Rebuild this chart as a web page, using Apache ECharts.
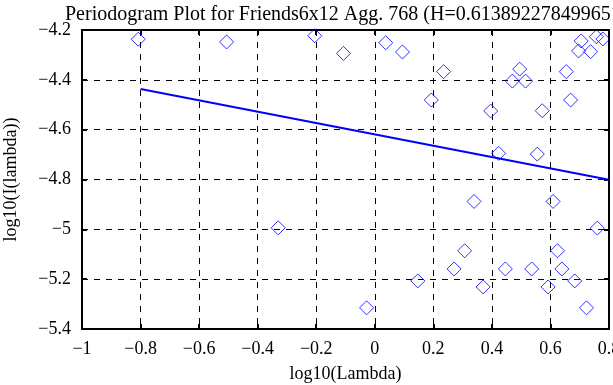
<!DOCTYPE html>
<html><head><meta charset="utf-8">
<script src="https://cdn.jsdelivr.net/npm/echarts@6/dist/echarts.min.js"></script>
<style>html,body{margin:0;padding:0;background:#fff;overflow:hidden}#c{width:613px;height:385px}</style>
</head><body><div id="c"></div>
<script>
const titleText = "Periodogram Plot for Friends6x12 Agg. 768 (H=0.613892278499651)";
const xName = "log10(Lambda)";
const yName = "log10(I(lambda))";
const xTicks = [-1, -0.8, -0.6, -0.4, -0.2, 0, 0.2, 0.4, 0.6, 0.8];
const yTicks = [-5.4, -5.2, -5, -4.8, -4.6, -4.4, -4.2];
const pointX = [-0.808, -0.506, -0.205, -0.107, 0.0375, 0.0945, 0.235, 0.193, 0.495, 0.470, 0.515, 0.396, 0.572, 0.654, 0.669, 0.423, 0.555,
  0.705, 0.757, 0.779, 0.696, 0.737,
  -0.330, 0.339, 0.609, 0.760, 0.307, 0.624, 0.271, 0.446, 0.536, 0.639, 0.147, 0.370, 0.592, 0.683, -0.028, 0.723];
const pointY = [-4.237, -4.248, -4.223, -4.294, -4.251, -4.288, -4.367, -4.481, -4.357, -4.405, -4.405, -4.525, -4.524, -4.367, -4.481, -4.695, -4.698,
  -4.244, -4.227, -4.236, -4.284, -4.287,
  -4.994, -4.888, -4.888, -4.995, -5.086, -5.086, -5.159, -5.159, -5.159, -5.159, -5.207, -5.231, -5.231, -5.207, -5.315, -5.315];
const fitX = [-0.8, 0.8];
const fitY = [-4.437, -4.801];

const fmt = v => {
  const r = Math.round(v * 10) / 10;
  const s = String(Math.abs(r));
  return (r < 0 ? '\u2212' : '') + s;
};
const font = "'Liberation Serif','DejaVu Serif',serif";
const chart = echarts.init(document.getElementById('c'), null, {renderer: 'canvas'});
const axisCommon = {
  type: 'value', interval: 0.2,
  axisLine: {show: true, onZero: false, lineStyle: {color: '#000', width: 2}},
  axisTick: {show: true, inside: true, length: 5, lineStyle: {color: '#000', width: 2}},
};
chart.setOption({
  animation: false,
  backgroundColor: '#fff',
  title: {text: titleText, left: 60, top: 0, textStyle: {fontFamily: font, fontWeight: 'normal', fontSize: 20, color: '#000'}},
  grid: {left: 82, right: 4, top: 30, bottom: 56, containLabel: false, outerBoundsMode: 'none'},
  xAxis: [
    Object.assign({}, axisCommon, {min: xTicks[0], max: xTicks[xTicks.length - 1], position: 'bottom',
      name: xName, nameLocation: 'middle', nameGap: 36,
      nameTextStyle: {fontFamily: font, fontSize: 18, color: '#000'},
      axisLabel: {formatter: fmt, fontFamily: font, fontSize: 18, color: '#000', margin: 11, showMaxLabel: true},
      splitLine: {show: true, lineStyle: {color: '#000', type: [6, 6], width: 1}}}),
    Object.assign({}, axisCommon, {min: xTicks[0], max: xTicks[xTicks.length - 1], position: 'top',
      axisLabel: {show: false}, splitLine: {show: false}})
  ],
  yAxis: [
    Object.assign({}, axisCommon, {min: yTicks[0], max: yTicks[yTicks.length - 1], position: 'left',
      name: yName, nameLocation: 'middle', nameGap: 62, nameRotate: 90,
      nameTextStyle: {fontFamily: font, fontSize: 18, color: '#000'},
      axisLabel: {formatter: fmt, fontFamily: font, fontSize: 18, color: '#000', margin: 11},
      splitLine: {show: true, lineStyle: {color: '#000', type: [6, 6], width: 1}}}),
    Object.assign({}, axisCommon, {min: yTicks[0], max: yTicks[yTicks.length - 1], position: 'right',
      axisLabel: {show: false}, splitLine: {show: false}})
  ],
  series: [
    {type: 'scatter', symbol: 'diamond', symbolSize: 14,
      itemStyle: {color: 'rgba(0,0,0,0)', borderColor: '#0000ff', borderWidth: 1},
      data: pointX.map((x, i) => [x, pointY[i]]), z: 3},
    {type: 'line', showSymbol: false, symbol: 'none',
      lineStyle: {color: '#0000ff', width: 2},
      data: fitX.map((x, i) => [x, fitY[i]]), z: 4}
  ]
});
</script></body></html>
